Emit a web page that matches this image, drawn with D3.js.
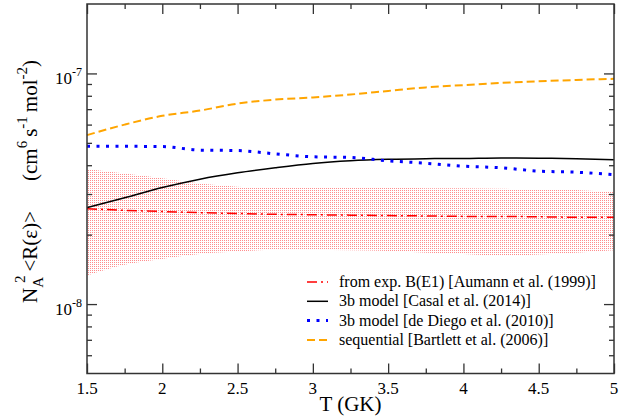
<!DOCTYPE html>
<html>
<head>
<meta charset="utf-8">
<script src="https://cdn.jsdelivr.net/npm/d3@7"></script>
<style>
  body { margin: 0; background: #fff; }
  svg text { font-family: "Liberation Serif", "DejaVu Serif", serif; fill: #000; }
</style>
</head>
<body>
<svg width="627" height="418" font-family="Liberation Serif, DejaVu Serif, serif"></svg>
<script>

var width = 627
var height = 418

// temperatures (GK)
var temps = [1.5, 1.75, 2, 2.25, 2.5, 2.75, 3, 3.25, 3.5, 3.75, 4, 4.25, 4.5, 4.75, 5]

// rates, cm^6 s^-1 mol^-2
var sequential = [5.4e-8, 6.0e-8, 6.55e-8, 6.9e-8, 7.4e-8, 7.7e-8, 7.87e-8, 8.1e-8, 8.4e-8, 8.7e-8, 8.9e-8, 9.1e-8, 9.25e-8, 9.37e-8, 9.48e-8]
var deDiego    = [4.83e-8, 4.83e-8, 4.82e-8, 4.65e-8, 4.63e-8, 4.48e-8, 4.35e-8, 4.32e-8, 4.18e-8, 4.08e-8, 3.96e-8, 3.9e-8, 3.77e-8, 3.73e-8, 3.64e-8]
var casal      = [2.62e-8, 2.89e-8, 3.2e-8, 3.48e-8, 3.71e-8, 3.9e-8, 4.07e-8, 4.18e-8, 4.24e-8, 4.27e-8, 4.28e-8, 4.3e-8, 4.29e-8, 4.27e-8, 4.22e-8]
var aumann     = [2.59e-8, 2.55e-8, 2.52e-8, 2.49e-8, 2.47e-8, 2.45e-8, 2.44e-8, 2.43e-8, 2.42e-8, 2.41e-8, 2.4e-8, 2.4e-8, 2.39e-8, 2.38e-8, 2.38e-8]
var aumannHigh = [3.85e-8, 3.68e-8, 3.51e-8, 3.33e-8, 3.23e-8, 3.2e-8, 3.2e-8, 3.2e-8, 3.2e-8, 3.18e-8, 3.18e-8, 3.16e-8, 3.15e-8, 3.12e-8, 3.06e-8]
var aumannLow  = [1.33e-8, 1.48e-8, 1.57e-8, 1.65e-8, 1.69e-8, 1.72e-8, 1.72e-8, 1.71e-8, 1.7e-8, 1.67e-8, 1.65e-8, 1.62e-8, 1.64e-8, 1.67e-8, 1.71e-8]

var xMajor = [1.5, 2, 2.5, 3, 3.5, 4, 4.5, 5]
var xMinor = [1.75, 2.25, 2.75, 3.25, 3.75, 4.25, 4.75]
var yMajor = [1e-8, 1e-7]
var yMajorExp = ["-8", "-7"]
var yMinor = [6e-9, 7e-9, 8e-9, 9e-9, 2e-8, 3e-8, 4e-8, 5e-8, 6e-8, 7e-8, 8e-8, 9e-8]

var legendNames = ["from exp. B(E1) [Aumann et al. (1999)]", "3b model [Casal et al. (2014)]",
                   "3b model [de Diego et al. (2010)]", "sequential [Bartlett et al. (2006)]"]

var plotL = 87, plotR = 614, plotT = 4, plotB = 373.5

var svg = d3.select("svg")

var x = d3.scaleLinear().domain([1.5, 5]).range([plotL, plotR])
var y = d3.scaleLog().domain([5e-9, 2e-7]).range([plotB, plotT])

// stipple pattern for the band
var defs = svg.append("defs")
var pat = defs.append("pattern")
    .attr("id", "stip")
    .attr("width", 2).attr("height", 2)
    .attr("patternUnits", "userSpaceOnUse")
pat.append("rect").attr("x", 0).attr("y", 0).attr("width", 1).attr("height", 1).attr("fill", "#ff8c8c")

var bandData = temps.map(function(t, i) { return {t: t, lo: aumannLow[i], hi: aumannHigh[i]} })

svg.append("path")
    .datum(bandData)
    .attr("fill", "url(#stip)")
    .attr("d", d3.area()
      .curve(d3.curveMonotoneX)
      .x(function(d) { return x(d.t) })
      .y0(function(d) { return y(d.lo) })
      .y1(function(d) { return y(d.hi) }))

var series = [
  {vals: aumann, color: "#ff0000", width: 1.5, dash: "10,4,2,4"},
  {vals: casal, color: "#000000", width: 1.5, dash: null},
  {vals: deDiego, color: "#0000ff", width: 3, dash: "3,6.5"},
  {vals: sequential, color: "#ffa500", width: 2, dash: "8,4"}
]

var line = d3.line()
    .curve(d3.curveMonotoneX)
    .x(function(d) { return x(d[0]) })
    .y(function(d) { return y(d[1]) })

series.forEach(function(s) {
  svg.append("path")
      .datum(temps.map(function(t, i) { return [t, s.vals[i]] }))
      .attr("fill", "none")
      .attr("stroke", s.color)
      .attr("stroke-width", s.width)
      .attr("stroke-dasharray", s.dash)
      .attr("d", line)
})

// axes, ticks pointing inward on all four sides
function styleAxis(g) {
  g.select(".domain").remove()
  g.selectAll("line").attr("stroke", "#333").attr("stroke-width", 1.3)
  g.selectAll("text").remove()
}

svg.append("g").attr("transform", "translate(0," + plotB + ")")
    .call(d3.axisBottom(x).tickValues(xMajor).tickSize(-10)).call(styleAxis)
svg.append("g").attr("transform", "translate(0," + plotB + ")")
    .call(d3.axisBottom(x).tickValues(xMinor).tickSize(-5)).call(styleAxis)
svg.append("g").attr("transform", "translate(0," + plotT + ")")
    .call(d3.axisTop(x).tickValues(xMajor).tickSize(-10)).call(styleAxis)
svg.append("g").attr("transform", "translate(0," + plotT + ")")
    .call(d3.axisTop(x).tickValues(xMinor).tickSize(-5)).call(styleAxis)

svg.append("g").attr("transform", "translate(" + plotL + ",0)")
    .call(d3.axisLeft(y).tickValues(yMajor).tickSize(-10)).call(styleAxis)
svg.append("g").attr("transform", "translate(" + plotL + ",0)")
    .call(d3.axisLeft(y).tickValues(yMinor).tickSize(-5)).call(styleAxis)
svg.append("g").attr("transform", "translate(" + plotR + ",0)")
    .call(d3.axisRight(y).tickValues(yMajor).tickSize(-10)).call(styleAxis)
svg.append("g").attr("transform", "translate(" + plotR + ",0)")
    .call(d3.axisRight(y).tickValues(yMinor).tickSize(-5)).call(styleAxis)

svg.append("rect")
    .attr("x", plotL).attr("y", plotT)
    .attr("width", plotR - plotL).attr("height", plotB - plotT)
    .attr("fill", "none").attr("stroke", "#333").attr("stroke-width", 1.5)

// tick labels
svg.selectAll(".xlab")
  .data(xMajor)
  .enter().append("text")
    .attr("class", "xlab")
    .attr("x", function(d) { return x(d) })
    .attr("y", plotB + 20)
    .attr("text-anchor", "middle")
    .style("font-size", "17px")
    .text(function(d) { return d })

var ylab = svg.selectAll(".ylab")
  .data(yMajor)
  .enter().append("text")
    .attr("class", "ylab")
    .attr("x", plotL - 5)
    .attr("y", function(d) { return y(d) + 10.5 })
    .attr("text-anchor", "end")
    .style("font-size", "17px")
ylab.append("tspan").text("10")
ylab.append("tspan")
    .attr("dy", -8)
    .style("font-size", "12px")
    .text(function(d, i) { return yMajorExp[i] })

// axis titles
svg.append("text")
    .attr("x", (plotL + plotR) / 2)
    .attr("y", 411)
    .attr("text-anchor", "middle")
    .style("font-size", "21px")
    .text("T (GK)")

var yt = svg.append("text")
    .attr("transform", "translate(37,303) rotate(-90)")
    .attr("text-anchor", "start")
    .style("font-size", "21px")
yt.append("tspan").text("N")
yt.append("tspan").attr("dy", 6).style("font-size", "15px").text("A")
yt.append("tspan").attr("dx", -6).attr("dy", -18).style("font-size", "15px").text("2")
yt.append("tspan").attr("dx", 4).attr("dy", 12).text("<R(ε)>")
yt.append("tspan").attr("dx", 30).text("(cm")
yt.append("tspan").attr("dy", -10).style("font-size", "15px").text("6")
yt.append("tspan").attr("dx", 4).attr("dy", 10).text("s")
yt.append("tspan").attr("dy", -10).style("font-size", "15px").text("-1")
yt.append("tspan").attr("dx", 4).attr("dy", 10).text("mol")
yt.append("tspan").attr("dy", -10).style("font-size", "15px").text("-2")
yt.append("tspan").attr("dy", 10).text(")")

// legend
var leg = svg.selectAll(".leg")
  .data(series)
  .enter().append("g")
    .attr("class", "leg")
    .attr("transform", function(d, i) { return "translate(0," + (282 + i * 19.3) + ")" })

leg.append("line")
    .attr("x1", 307).attr("x2", 328)
    .attr("stroke", function(d) { return d.color })
    .attr("stroke-width", function(d) { return d.width })
    .attr("stroke-dasharray", function(d) { return d.dash })

leg.append("text")
    .attr("x", 339)
    .attr("y", 5)
    .style("font-size", "16px")
    .text(function(d, i) { return legendNames[i] })

</script>
</body>
</html>
